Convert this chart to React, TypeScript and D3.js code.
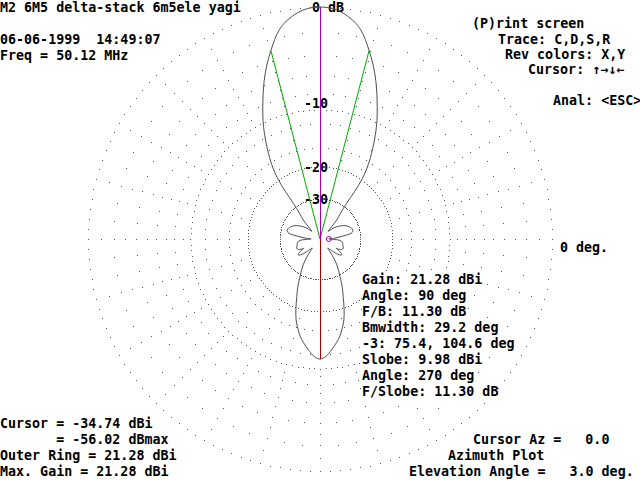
import * as d3 from 'd3';

const CX = 320;
const CY = 239;
const R = 232;

// half pattern, measured off the 90 deg peak; the other half mirrors it
const offAxisDeg = [
  0, 4, 8, 11, 14.6, 18.4, 22.4, 26.8, 31.1, 33.5, 35.2, 36, 36.8, 38.5, 41.3, 43.6,
  46.5, 50.5, 54, 58, 62, 67.5, 71, 74.7, 77.5, 79.7, 81.5, 84, 87, 90,
  92, 94, 98, 104.6, 111.8, 116, 118.5, 120, 122, 124, 126.4, 129, 131.5, 133.7,
  136.5, 139, 141.8, 144, 147, 152, 155, 158, 161, 163.5, 166, 168.4, 171, 174, 177, 180,
];
const relGainDb = [
  0, -0.16, -0.72, -1.45, -3.0, -4.95, -7.5, -10.6, -14.5, -17.2, -20.1, -23.5, -28.4, -33.5, -38.0, -44.9,
  -52, -45, -41.5, -38.3, -36, -34.1, -33.3, -32.9, -33.3, -34.2, -37, -42, -48, -56.02,
  -47, -42, -40, -39.2, -38.2, -38.8, -41, -43.2, -40, -37.8, -37.0, -38, -40.5, -43.6,
  -48, -51, -45.8, -40, -34.5, -29.1, -25.5, -22.7, -19.6, -17.4, -15.9, -14.6, -13.6, -12.6, -11.7, -11.3,
];

const ringDb = [0, -10, -20, -30];
const ringLabels = ['0 dB', '-10', '-20', '-30'];
const spokeMajorDb = [-1, -2, -3, -4, -5, -6, -7, -8, -9, -12, -14, -16, -18];
const spokeMinorDb = [-2, -4, -6, -8, -12, -16];

const halfPowerAz = [75.4, 104.6];
const peakAz = 90;
const slobeAz = 270;
const slobeDb = -11.3;
const cursorAz = 0;
const cursorDb = -56.02;

const headerLines = ['M2 6M5 delta-stack 6m5ele yagi', '06-06-1999  14:49:07', 'Freq = 50.12 MHz'];
const keyLines = ['(P)rint screen', 'Trace: C,D,S,R', 'Rev colors: X,Y', 'Cursor: \u2191\u2192\u2193\u2190', 'Anal: <ESC>'];
const infoLines = [
  'Gain: 21.28 dBi', 'Angle: 90 deg', 'F/B: 11.30 dB', 'Bmwidth: 29.2 deg',
  '-3: 75.4, 104.6 deg', 'Slobe: 9.98 dBi', 'Angle: 270 deg', 'F/Slobe: 11.30 dB',
];
const cursorLines = ['Cursor = -34.74 dBi', '       = -56.02 dBmax', 'Outer Ring = 21.28 dBi', 'Max. Gain = 21.28 dBi'];
const footerLines = ['Cursor Az =   0.0', 'Azimuth Plot', 'Elevation Angle =   3.0 deg.'];
const axisLabel = '0 deg.';

const GRID = '#555555';
const TRACE = '#505050';
const MAGENTA = '#a800a8';
const GREEN = '#00aa00';
const RED = '#aa0000';

// ARRL log scale: 2 dB per 0.89 of radius
const rScale = d3.scaleLog().domain([R * Math.pow(0.89, 25), R]).range([-50, 0]);
const radius = (db: number) => rScale.invert(db);
const toXY = (az: number, r: number): [number, number] => {
  const a = (az * Math.PI) / 180;
  return [CX + r * Math.cos(a), CY - r * Math.sin(a)];
};

const rowY = (row: number) => row * 16 + 12;

function Txt({ x, y, s, bg = false }: { x: number; y: number; s: string; bg?: boolean }) {
  return (
    <g>
      {bg && <rect x={x} y={y - 12} width={s.length * 8} height={16} fill="#fff" />}
      <text x={x} y={y} style={{ whiteSpace: 'pre' }}>{s}</text>
    </g>
  );
}

export default function App() {
  const pts: [number, number][] = [];
  offAxisDeg.forEach((phi, i) => pts.push(toXY(peakAz - phi, radius(relGainDb[i]))));
  for (let i = offAxisDeg.length - 2; i > 0; i--) {
    pts.push(toXY(peakAz + offAxisDeg[i], radius(relGainDb[i])));
  }
  const patternPath = d3.line().curve(d3.curveCatmullRomClosed.alpha(0.5))(pts) ?? '';

  const dots: [number, number][] = [];
  ringDb.forEach(db => {
    d3.range(0, 360, 2.5).forEach(az => dots.push(toXY(az, radius(db))));
  });
  d3.range(0, 360, 5).forEach(az => {
    const levels = az % 15 === 0 ? spokeMajorDb : spokeMinorDb;
    levels.forEach(db => dots.push(toXY(az, radius(db))));
  });

  const [px, py] = toXY(peakAz, radius(0));
  const [sx, sy] = toXY(slobeAz, radius(slobeDb));
  const [cx, cy] = toXY(cursorAz, radius(cursorDb));

  return (
    <svg width={640} height={480} style={{ position: 'absolute', left: 0, top: 0, background: '#fff' }}
      fontFamily="'DejaVu Sans Mono', monospace" fontSize={13.33} fontWeight="bold" fill="#000">
      <g fill={GRID}>
        {dots.map(([x, y], i) => (
          <rect key={i} x={Math.round(x)} y={Math.round(y)} width={1} height={1} />
        ))}
      </g>

      {ringDb.map((db, i) => {
        const top = CY - radius(db);
        const y = Math.floor(top / 16) * 16 + 12;
        return i === 0
          ? <text key={i} x={CX - 8} y={y}>{ringLabels[i]}</text>
          : <text key={i} x={CX + 8} y={y} textAnchor="end">{ringLabels[i]}</text>;
      })}

      <path d={patternPath} fill="none" stroke={TRACE} strokeWidth={1} />

      {halfPowerAz.map(az => {
        const [x, y] = toXY(az, radius(-3));
        return <line key={az} x1={CX} y1={CY} x2={x} y2={y} stroke={GREEN} strokeWidth={1} />;
      })}
      <line x1={CX} y1={CY} x2={px} y2={py} stroke={MAGENTA} strokeWidth={1} shapeRendering="crispEdges" />
      <line x1={CX} y1={CY} x2={sx} y2={sy} stroke={RED} strokeWidth={1} shapeRendering="crispEdges" />
      <circle cx={cx} cy={cy} r={2.5} fill="none" stroke={MAGENTA} strokeWidth={1} />

      <Txt x={0} y={rowY(0)} s={headerLines[0]} />
      <Txt x={0} y={rowY(2)} s={headerLines[1]} />
      <Txt x={0} y={rowY(3)} s={headerLines[2]} />

      <Txt x={472} y={28} s={keyLines[0]} />
      <Txt x={498} y={44} s={keyLines[1]} />
      <Txt x={505} y={59} s={keyLines[2]} />
      <Txt x={528} y={74} s={keyLines[3]} />
      <Txt x={553} y={105} s={keyLines[4]} />

      <Txt x={560} y={rowY(15)} s={axisLabel} />

      {infoLines.map((s, i) => (
        <Txt key={s} x={362} y={rowY(17 + i) - 0.5} s={s} bg />
      ))}

      {cursorLines.map((s, i) => (
        <Txt key={s} x={0} y={rowY(26 + i)} s={s} />
      ))}

      <Txt x={473} y={rowY(27)} s={footerLines[0]} />
      <Txt x={448} y={rowY(28)} s={footerLines[1]} />
      <Txt x={409} y={rowY(29)} s={footerLines[2]} />
    </svg>
  );
}
